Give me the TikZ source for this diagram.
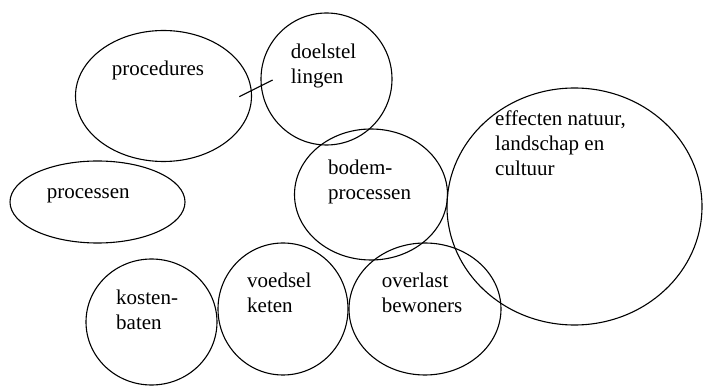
\documentclass[tikz,border=0pt]{standalone}
\usepackage{fontspec}
\setmainfont{Liberation Serif}
\newfontfamily\bubblefont{Liberation Serif}
\usetikzlibrary{shapes.geometric}

\tikzset{
  bubble/.style={draw,ellipse,line width=1.1pt,inner sep=0pt,outer sep=0pt},
  lbl/.style={anchor=base west,inner sep=0pt,align=left,font=\bubblefont\fontsize{21}{25}\selectfont}
}

\begin{document}
\begin{tikzpicture}[x=1pt,y=-1pt]
\useasboundingbox (0,0) rectangle (705,387);
% bubbles
\node[bubble,minimum width=176,minimum height=131] (proc) at (163.5,96) {};
\node[bubble,minimum width=131,minimum height=132] (doel) at (326.5,79) {};
\node[bubble,minimum width=175,minimum height=82] (procs) at (97.5,202) {};
\node[bubble,minimum width=153,minimum height=131] (bodem) at (371,194.5) {};
\node[bubble,minimum width=255,minimum height=237] (eff) at (574.5,206.5) {};
\node[bubble,minimum width=131,minimum height=126] (kost) at (151.5,322) {};
\node[bubble,minimum width=130,minimum height=132] (voed) at (283,309) {};
\node[bubble,minimum width=152,minimum height=132] (over) at (425,309) {};
% texts (base = last line)
\node[lbl] (procT) at (111.7,76) {procedures};
\node[lbl] (doelT) at (290.7,84) {doelstel\\lingen};
\node[lbl] (procsT) at (46.7,199) {processen};
\node[lbl] (bodemT) at (328,200) {bodem-\\processen};
\node[lbl] (effT) at (495,176) {effecten natuur,\\landschap en\\cultuur};
\node[lbl] (kostT) at (116,330) {kosten-\\baten};
\node[lbl] (voedT) at (247,312.7) {voedsel\\keten};
\node[lbl] (overT) at (381.7,312.7) {overlast\\bewoners};
% link
\coordinate (linkA) at (239.3,96.7);
\coordinate (linkB) at (272.7,80);
\draw[line width=1.1pt] (linkA) -- (linkB);
\end{tikzpicture}
\end{document}
